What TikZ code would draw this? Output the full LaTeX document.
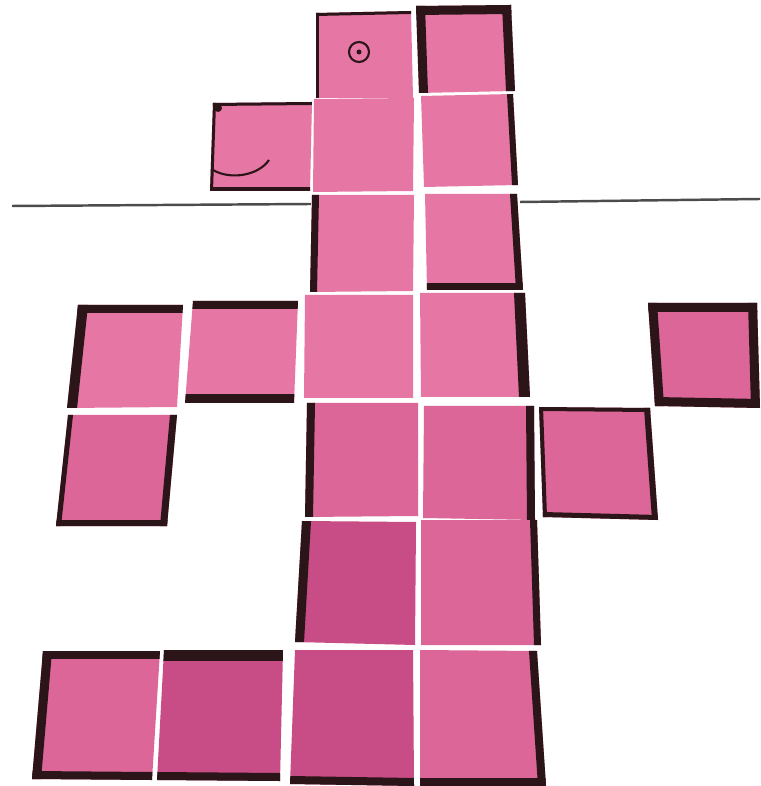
\documentclass[tikz,border=0pt]{standalone}
\usetikzlibrary{calc}

\definecolor{paperlight}{HTML}{E677A4}
\definecolor{papermid}{HTML}{DC6698}
\definecolor{paperdeep}{HTML}{C84C85}
\definecolor{inkdark}{HTML}{2B1519}

% a paper square given by its four corners: name, tl, tr, br, bl, colour
\newcommand{\papertile}[6]{%
  \coordinate (#1-tl) at #2; \coordinate (#1-tr) at #3;
  \coordinate (#1-br) at #4; \coordinate (#1-bl) at #5;
  \fill[#6] (#1-tl) -- (#1-tr) -- (#1-br) -- (#1-bl) -- cycle;}
% a marker band inside one side of a square: name, corner, corner, width (px)
\newcommand{\inkedge}[4]{%
  \begin{scope}
    \clip (#1-tl) -- (#1-tr) -- (#1-br) -- (#1-bl) -- cycle;
    \draw[inkdark, line width=#4*0.569pt, line cap=rect] (#1-#2) -- (#1-#3);
  \end{scope}}

\begin{document}
\begin{tikzpicture}[
        x=0.01cm, y=-0.01cm,
        tableline/.style={draw=black!70, line width=0.7pt},
        pen/.style={draw=inkdark, line width=0.6pt}
    ]
    \useasboundingbox (0,0) rectangle (760,786);
    \fill[white] (0,0) rectangle (760,786);

    % Table edge
    \draw [tableline] (12,206) -- (311,204);
    \draw [tableline] (520,202) -- (760,199);

    % Tiles
    \papertile{a}{(316,13)}{(411,11)}{(413,98)}{(316,98)}{paperlight}
    \papertile{b}{(416,6)}{(511,5)}{(515,91)}{(419,93)}{paperlight}
    \papertile{c}{(213,103)}{(312,102)}{(310,191)}{(210,191)}{paperlight}
    \papertile{d}{(314,99)}{(414,98)}{(413,191)}{(313,192)}{paperlight}
    \papertile{e}{(421,96)}{(513,94)}{(518,185)}{(424,187)}{paperlight}
    \papertile{f}{(312,195)}{(414,195)}{(413,291)}{(310,292)}{paperlight}
    \papertile{g}{(425,194)}{(517,194)}{(523,290)}{(427,290)}{paperlight}

    \papertile{h}{(78,305)}{(183,305)}{(177,407)}{(67,408)}{paperlight}
    \papertile{i}{(193,301)}{(298,301)}{(294,403)}{(185,403)}{paperlight}
    \papertile{j}{(305,295)}{(413,295)}{(413,398)}{(304,398)}{paperlight}
    \papertile{k}{(420,293)}{(525,293)}{(530,397)}{(421,397)}{paperlight}
    \papertile{l}{(648,303)}{(757,303)}{(760,408)}{(655,406)}{papermid}

    \papertile{m}{(68,415)}{(177,415)}{(167,526)}{(56,526)}{papermid}
    \papertile{n}{(307,403)}{(418,403)}{(418,516)}{(305,517)}{papermid}
    \papertile{o}{(424,406)}{(534,406)}{(535,520)}{(423,518)}{papermid}
    \papertile{p}{(539,407)}{(650,408)}{(658,520)}{(543,517)}{papermid}

    \papertile{q}{(302,521)}{(416,522)}{(415,645)}{(295,642)}{paperdeep}
    \papertile{r}{(421,520)}{(537,520)}{(541,645)}{(421,645)}{papermid}

    \papertile{s}{(43,651)}{(160,651)}{(152,780)}{(32,779)}{papermid}
    \papertile{t}{(164,650)}{(283,650)}{(280,781)}{(157,780)}{paperdeep}
    \papertile{u}{(295,650)}{(413,650)}{(414,786)}{(290,784)}{paperdeep}
    \papertile{v}{(420,650)}{(537,651)}{(546,786)}{(420,786)}{papermid}

    % Marker borders
    \inkedge{a}{tl}{bl}{3} \inkedge{a}{tl}{tr}{3}
    \inkedge{b}{tl}{bl}{9} \inkedge{b}{tl}{tr}{9} \inkedge{b}{tr}{br}{9}
    \inkedge{c}{tl}{bl}{3} \inkedge{c}{tl}{tr}{3} \inkedge{c}{bl}{br}{4}
    \inkedge{e}{tr}{br}{6}
    \inkedge{f}{tl}{bl}{7}
    \inkedge{g}{tr}{br}{7} \inkedge{g}{bl}{br}{7}
    \inkedge{h}{tl}{bl}{10} \inkedge{h}{tl}{tr}{8}
    \inkedge{i}{tl}{tr}{8} \inkedge{i}{bl}{br}{9}
    \inkedge{k}{tr}{br}{11}
    \inkedge{l}{tl}{tr}{9} \inkedge{l}{tr}{br}{9} \inkedge{l}{bl}{br}{9} \inkedge{l}{tl}{bl}{9}
    \inkedge{m}{tl}{bl}{5} \inkedge{m}{tr}{br}{7} \inkedge{m}{bl}{br}{6}
    \inkedge{n}{tl}{bl}{8}
    \inkedge{o}{tr}{br}{8}
    \inkedge{p}{tl}{tr}{4} \inkedge{p}{tr}{br}{6} \inkedge{p}{bl}{br}{5} \inkedge{p}{tl}{bl}{4}
    \inkedge{q}{tl}{bl}{9}
    \inkedge{r}{tr}{br}{7}
    \inkedge{s}{tl}{bl}{9} \inkedge{s}{tl}{tr}{8} \inkedge{s}{bl}{br}{8}
    \inkedge{t}{tl}{tr}{11} \inkedge{t}{bl}{br}{8}
    \inkedge{u}{bl}{br}{8}
    \inkedge{v}{tr}{br}{8} \inkedge{v}{bl}{br}{8}

    % Pen marks
    \draw [pen] (359,52) circle [radius=0.1cm];
    \fill [inkdark] (359,52) circle [radius=0.025cm];
    \fill [inkdark] (218,108) circle [radius=0.04cm];
    \draw [pen] (213,170) .. controls (230,180) and (258,176) .. (269,160);

\end{tikzpicture}
\end{document}
